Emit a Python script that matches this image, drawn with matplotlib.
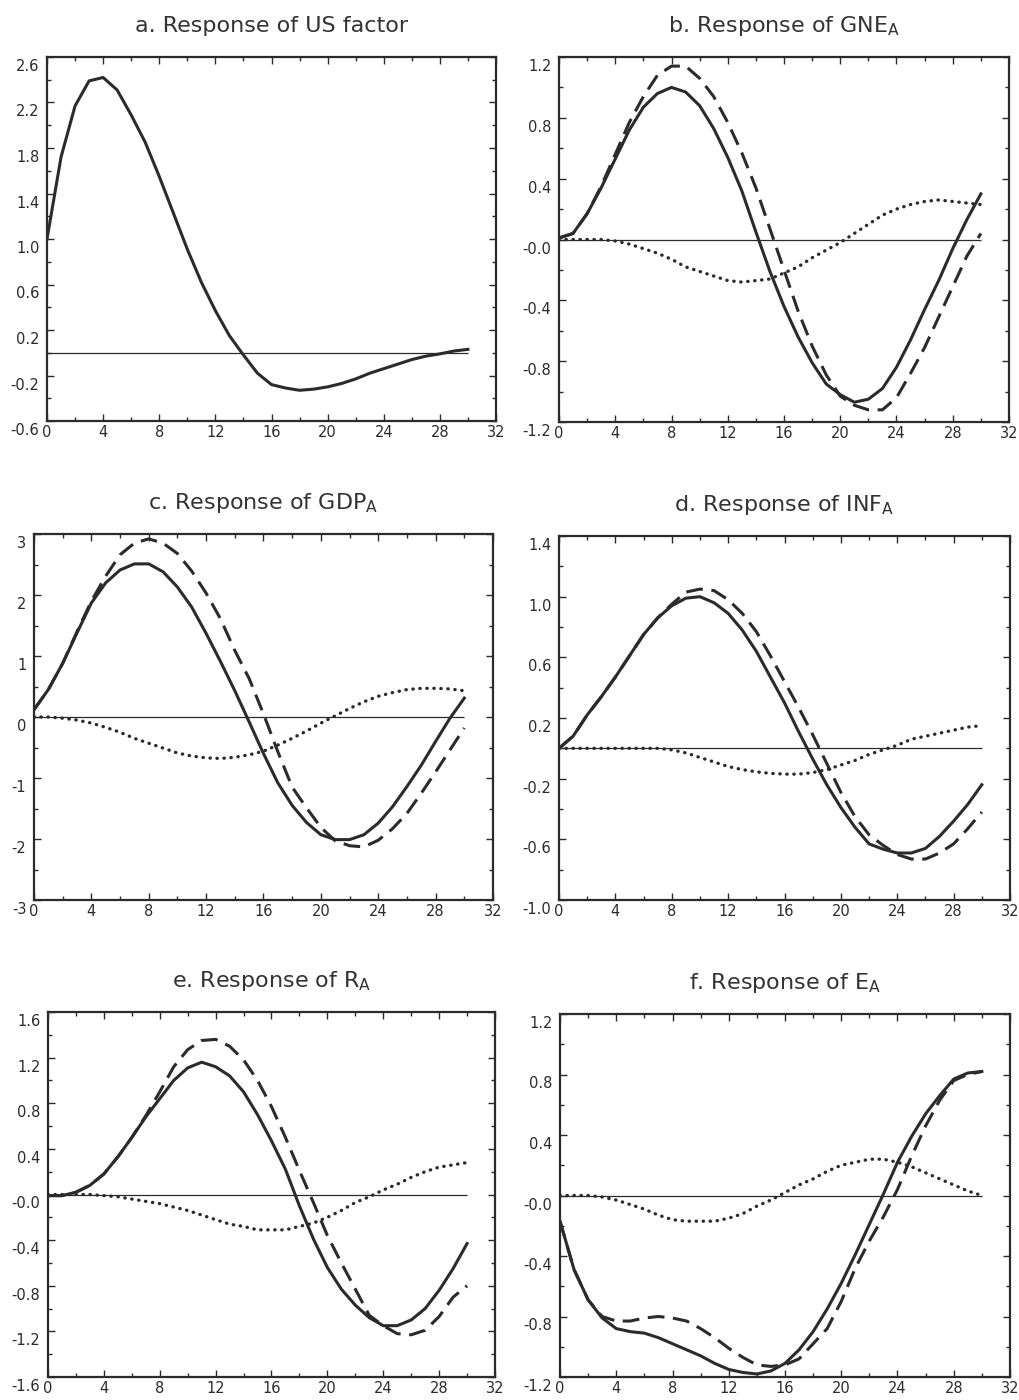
import matplotlib
matplotlib.use('Agg')
import matplotlib.pyplot as plt
import matplotlib.transforms as mtransforms
import numpy as np

periods = np.arange(0, 31)

# a. US factor
us_solid = [1.00, 1.72, 2.17, 2.39, 2.42, 2.31, 2.09, 1.85, 1.55, 1.23,
            0.91, 0.62, 0.37, 0.15, -0.02, -0.18, -0.28, -0.31, -0.33, -0.32,
            -0.30, -0.27, -0.23, -0.18, -0.14, -0.10, -0.06, -0.03, -0.01, 0.015,
            0.03]

# b. GNE
gne_solid = [0.01, 0.04, 0.17, 0.34, 0.53, 0.72, 0.87, 0.96, 1.00, 0.97,
             0.88, 0.73, 0.54, 0.32, 0.05, -0.21, -0.44, -0.64, -0.81, -0.95,
             -1.02, -1.07, -1.05, -0.98, -0.84, -0.66, -0.46, -0.27, -0.06, 0.13,
             0.30]
gne_dash = [0.01, 0.04, 0.17, 0.35, 0.56, 0.77, 0.94, 1.08, 1.14, 1.14,
            1.06, 0.94, 0.77, 0.57, 0.34, 0.07, -0.20, -0.47, -0.70, -0.89,
            -1.03, -1.09, -1.12, -1.12, -1.04, -0.88, -0.71, -0.51, -0.31, -0.11,
            0.04]
gne_dot = [0.0, 0.0, 0.0, 0.0, -0.01, -0.03, -0.06, -0.09, -0.13, -0.18,
           -0.21, -0.24, -0.27, -0.28, -0.27, -0.26, -0.22, -0.18, -0.12, -0.07,
           -0.02, 0.04, 0.10, 0.16, 0.20, 0.23, 0.25, 0.26, 0.25, 0.24,
           0.23]

# c. GDP
gdp_solid = [0.12, 0.45, 0.88, 1.38, 1.87, 2.20, 2.41, 2.51, 2.51, 2.38,
             2.13, 1.80, 1.37, 0.91, 0.43, -0.08, -0.60, -1.08, -1.45, -1.73,
             -1.93, -2.01, -2.01, -1.93, -1.74, -1.47, -1.14, -0.79, -0.40, -0.02,
             0.31]
gdp_dash = [0.12, 0.45, 0.88, 1.40, 1.90, 2.31, 2.66, 2.85, 2.92, 2.85,
            2.68, 2.39, 2.03, 1.61, 1.09, 0.63, 0.05, -0.57, -1.15, -1.49,
            -1.81, -2.03, -2.11, -2.13, -2.02, -1.83, -1.58, -1.25, -0.90, -0.54,
            -0.18]
gdp_dot = [0.0, 0.0, -0.02, -0.05, -0.10, -0.17, -0.25, -0.35, -0.43, -0.51,
           -0.59, -0.64, -0.67, -0.68, -0.66, -0.62, -0.56, -0.46, -0.35, -0.23,
           -0.10, 0.02, 0.14, 0.25, 0.34, 0.40, 0.45, 0.47, 0.47, 0.46,
           0.43]

# d. INF
inf_solid = [0.0, 0.08, 0.22, 0.34, 0.47, 0.61, 0.75, 0.86, 0.94, 0.99,
             1.00, 0.96, 0.89, 0.78, 0.64, 0.47, 0.30, 0.11, -0.07, -0.24,
             -0.39, -0.52, -0.63, -0.665, -0.69, -0.69, -0.66, -0.58, -0.48, -0.37,
             -0.24]
inf_dash = [0.0, 0.08, 0.22, 0.34, 0.47, 0.61, 0.75, 0.86, 0.95, 1.03,
            1.05, 1.04, 0.98, 0.89, 0.77, 0.61, 0.44, 0.27, 0.09, -0.10,
            -0.29, -0.45, -0.57, -0.64, -0.70, -0.73, -0.73, -0.69, -0.63, -0.53,
            -0.42]
inf_dot = [0.0, 0.0, 0.0, 0.0, 0.0, 0.0, 0.0, 0.0, -0.01, -0.03,
           -0.06, -0.09, -0.12, -0.14, -0.155, -0.165, -0.17, -0.17, -0.16, -0.14,
           -0.11, -0.08, -0.04, -0.01, 0.02, 0.06, 0.08, 0.10, 0.12, 0.14,
           0.15]

# e. R
r_solid = [-0.01, -0.01, 0.02, 0.08, 0.18, 0.33, 0.50, 0.68, 0.84, 1.00,
           1.11, 1.16, 1.12, 1.04, 0.90, 0.70, 0.47, 0.22, -0.10, -0.39,
           -0.64, -0.83, -0.97, -1.08, -1.15, -1.15, -1.10, -1.00, -0.84, -0.65,
           -0.43]
r_dash = [-0.01, -0.01, 0.02, 0.08, 0.18, 0.33, 0.50, 0.69, 0.90, 1.12,
          1.27, 1.35, 1.36, 1.30, 1.18, 1.00, 0.77, 0.50, 0.21, -0.07,
          -0.36, -0.60, -0.83, -1.06, -1.15, -1.22, -1.23, -1.19, -1.07, -0.90,
          -0.80]
r_dot = [0.0, 0.0, 0.0, 0.0, -0.01, -0.02, -0.04, -0.06, -0.08, -0.11,
         -0.14, -0.18, -0.22, -0.26, -0.28, -0.31, -0.31, -0.31, -0.28, -0.25,
         -0.20, -0.14, -0.07, -0.02, 0.04, 0.09, 0.15, 0.20, 0.24, 0.26,
         0.28]

# f. E
e_solid = [-0.17, -0.49, -0.69, -0.81, -0.88, -0.90, -0.91, -0.94, -0.98, -1.02,
           -1.06, -1.11, -1.15, -1.17, -1.18, -1.16, -1.11, -1.02, -0.90, -0.75,
           -0.58, -0.39, -0.19, 0.01, 0.22, 0.39, 0.54, 0.66, 0.77, 0.81,
           0.82]
e_dash = [-0.17, -0.49, -0.69, -0.80, -0.83, -0.83, -0.81, -0.80, -0.81, -0.83,
          -0.88, -0.94, -1.01, -1.07, -1.12, -1.13, -1.12, -1.08, -0.98, -0.88,
          -0.70, -0.48, -0.30, -0.14, 0.04, 0.26, 0.46, 0.63, 0.76, 0.80,
          0.82]
e_dot = [0.0, 0.0, 0.0, -0.01, -0.03, -0.06, -0.09, -0.13, -0.16, -0.17,
         -0.17, -0.17, -0.15, -0.12, -0.07, -0.03, 0.02, 0.07, 0.11, 0.16,
         0.20, 0.22, 0.24, 0.24, 0.22, 0.19, 0.15, 0.11, 0.07, 0.03,
         0.0]

titles = ['a. Response of US factor',
          r'b. Response of GNE$_\mathrm{A}$',
          r'c. Response of GDP$_\mathrm{A}$',
          r'd. Response of INF$_\mathrm{A}$',
          r'e. Response of R$_\mathrm{A}$',
          r'f. Response of E$_\mathrm{A}$']

yticks_a = [-0.6, -0.2, 0.2, 0.6, 1.0, 1.4, 1.8, 2.2, 2.6]
ylabels_a = ['-0.6', '-0.2', '0.2', '0.6', '1.0', '1.4', '1.8', '2.2', '2.6']
yticks_b = [-1.2, -0.8, -0.4, 0.0, 0.4, 0.8, 1.2]
ylabels_b = ['-1.2', '-0.8', '-0.4', '-0.0', '0.4', '0.8', '1.2']
yticks_c = [-3, -2, -1, 0, 1, 2, 3]
ylabels_c = ['-3', '-2', '-1', '0', '1', '2', '3']
yticks_d = [-1.0, -0.6, -0.2, 0.2, 0.6, 1.0, 1.4]
ylabels_d = ['-1.0', '-0.6', '-0.2', '0.2', '0.6', '1.0', '1.4']
yticks_e = [-1.6, -1.2, -0.8, -0.4, 0.0, 0.4, 0.8, 1.2, 1.6]
ylabels_e = ['-1.6', '-1.2', '-0.8', '-0.4', '-0.0', '0.4', '0.8', '1.2', '1.6']
yticks_f = [-1.2, -0.8, -0.4, 0.0, 0.4, 0.8, 1.2]
ylabels_f = ['-1.2', '-0.8', '-0.4', '-0.0', '0.4', '0.8', '1.2']

xticks = [0, 4, 8, 12, 16, 20, 24, 28, 32]

ink = '#2b2b2b'

fig = plt.figure(figsize=(10.2, 14), dpi=100)

# axes boxes in pixels: left, top, right, bottom
boxes = [(47, 57, 496, 421), (559, 57, 1009, 422),
         (34, 534, 493, 900), (559, 536, 1010, 900),
         (48, 1012, 495, 1377), (560, 1014, 1010, 1377)]


def make_axes(box):
    l, t, r, b = box
    return fig.add_axes([l / 1020, 1 - b / 1400, (r - l) / 1020, (b - t) / 1400])


def panel(ax, title, yticks, ylabels, minor, solid, dash=None, dot=None):
    ax.hlines(0, periods[0], periods[-1], color=ink, lw=0.9, zorder=1)
    if dot is not None:
        ax.plot(periods, dot, color=ink, lw=2.4, linestyle=(0, (0.1, 2.0)),
                dash_capstyle='round', zorder=2)
    if dash is not None:
        ax.plot(periods, dash, color=ink, lw=2.2, dashes=[5.5, 2.8], zorder=3)
    ax.plot(periods, solid, color=ink, lw=2.2, zorder=4)

    ax.set_xlim(0, 32)
    ax.set_ylim(yticks[0], yticks[-1])
    ax.set_xticks(xticks)
    ax.set_xticks(np.arange(0, 33, 2), minor=True)
    ax.set_yticks(yticks)
    ax.set_yticklabels(ylabels)
    ax.set_yticks(np.arange(yticks[0], yticks[-1] + 1e-9, minor), minor=True)
    ax.tick_params(which='both', direction='in', top=True, right=True,
                   colors=ink, labelsize=10.5, width=1.0)
    ax.tick_params(which='major', length=5)
    ax.tick_params(which='minor', length=3)
    ax.tick_params(axis='x', pad=3)
    ax.tick_params(axis='y', pad=5.5)
    off = mtransforms.ScaledTranslation(0, -8 / 100, fig.dpi_scale_trans)
    for lab in ax.get_yticklabels():
        lab.set_transform(lab.get_transform() + off)
    for s in ax.spines.values():
        s.set_linewidth(1.6)
        s.set_color(ink)
    ax.set_title(title, fontsize=16, color='#333333', pad=18)


axs = [make_axes(b) for b in boxes]
panel(axs[0], titles[0], yticks_a, ylabels_a, 0.2, us_solid)
panel(axs[1], titles[1], yticks_b, ylabels_b, 0.2, gne_solid, gne_dash, gne_dot)
panel(axs[2], titles[2], yticks_c, ylabels_c, 0.5, gdp_solid, gdp_dash, gdp_dot)
panel(axs[3], titles[3], yticks_d, ylabels_d, 0.2, inf_solid, inf_dash, inf_dot)
panel(axs[4], titles[4], yticks_e, ylabels_e, 0.2, r_solid, r_dash, r_dot)
panel(axs[5], titles[5], yticks_f, ylabels_f, 0.2, e_solid, e_dash, e_dot)

fig.savefig('out.png', dpi=100)
